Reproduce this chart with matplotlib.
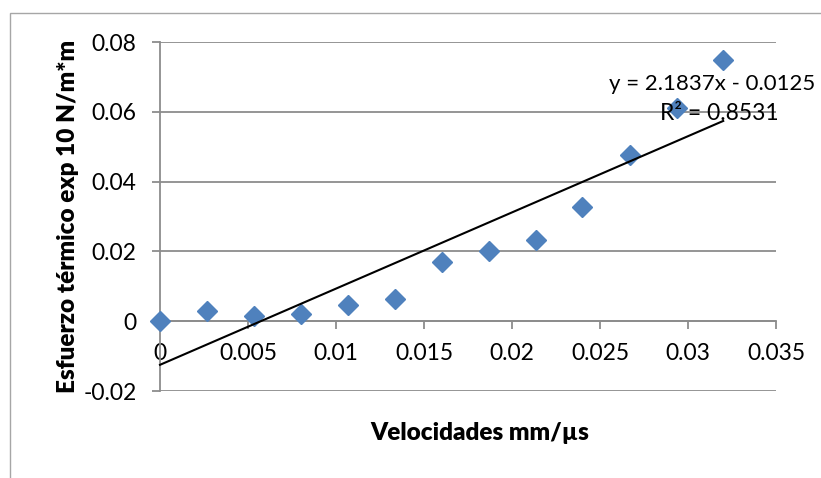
import matplotlib
matplotlib.use("Agg")
import matplotlib.pyplot as plt
from matplotlib.patches import Rectangle
import numpy as np

# data
velocidades = [0.0, 0.00267, 0.00534, 0.0080, 0.0107, 0.01335, 0.0160,
               0.0187, 0.02136, 0.0240, 0.0267, 0.0294, 0.0320]
esfuerzo = [0.0, 0.0029, 0.0014, 0.0020, 0.0046, 0.0063, 0.0169,
            0.0200, 0.0232, 0.0327, 0.0476, 0.0611, 0.0748]
slope = 2.1837
intercept = -0.0125
r2 = 0.8531

x_ticks = [0, 0.005, 0.01, 0.015, 0.02, 0.025, 0.03, 0.035]
x_tick_labels = ["0", "0.005", "0.01", "0.015", "0.02", "0.025", "0.03", "0.035"]
y_ticks = [-0.02, 0, 0.02, 0.04, 0.06, 0.08]
y_tick_labels = ["-0.02", "0", "0.02", "0.04", "0.06", "0.08"]

plt.rcParams['font.family'] = ['Lato', 'DejaVu Sans']
GRAY = "#8c8c8c"
BLUE = "#4f81bd"

W, H = 821, 478
fig = plt.figure(figsize=(W / 100, H / 100), dpi=100)
ax = fig.add_axes([160 / W, 1 - 391 / H, (776 - 160) / W, (391 - 42) / H])

# chart frame (cropped on right and bottom in the reference)
fig.patches.append(Rectangle((10 / W, -0.2), 1.5, 1.2 - 13 / H,
                             transform=fig.transFigure, fill=False,
                             edgecolor="#a6a6a6", linewidth=1.0))

ax.set_xlim(0, 0.035)
ax.set_ylim(-0.02, 0.08)
ax.set_yticks(y_ticks)
ax.set_yticklabels(y_tick_labels)
ax.set_xticks(x_ticks)
ax.set_xticklabels(x_tick_labels)

ax.grid(axis="y", color=GRAY, linewidth=1.3)
ax.set_axisbelow(True)
for side in ("top", "right"):
    ax.spines[side].set_visible(False)
ax.spines["bottom"].set_position(("data", 0))
ax.spines["bottom"].set_color(GRAY)
ax.spines["bottom"].set_linewidth(1.3)
ax.spines["left"].set_color(GRAY)
ax.spines["left"].set_linewidth(1.3)
ax.tick_params(axis="x", direction="out", length=6, width=1.3, color=GRAY,
               labelsize=16.5, pad=10)
ax.tick_params(axis="y", direction="out", length=6, width=1.3, color=GRAY,
               labelsize=16.5, pad=11)

ax.plot(velocidades, esfuerzo, linestyle="none", marker="D", markersize=10,
        color=BLUE, clip_on=False, zorder=3)

xs = np.array([0, max(velocidades)])
ax.plot(xs, slope * xs + intercept, color="black", linewidth=1.5,
        clip_on=False, zorder=4)

# trendline label: the reference crops its last digit, kept just inside here
ax.text(609 / W, 1 - 84 / H, f"y = {slope}x - {abs(intercept)}",
        transform=fig.transFigure, fontsize=16, va="center", ha="left",
        zorder=5)
ax.text(660 / W, 1 - 113 / H, f"R² = {r2}", transform=fig.transFigure,
        fontsize=16.5, va="center", ha="left", zorder=5)

fig.text(480 / W, 1 - 433 / H, "Velocidades mm/µs", fontsize=17.5,
         fontweight="heavy", ha="center", va="center")
fig.text(68 / W, 1 - 216 / H, "Esfuerzo térmico exp 10 N/m*m", fontsize=17.5,
         fontweight="heavy", ha="center", va="center", rotation=90)

fig.savefig("out.png", dpi=100)
